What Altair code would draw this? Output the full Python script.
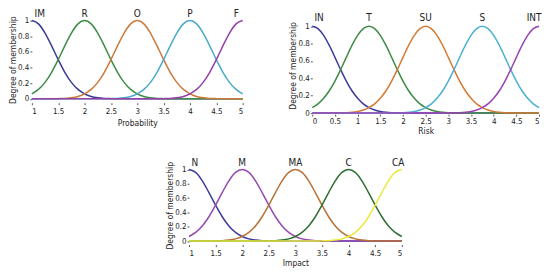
import altair as alt
import pandas as pd

# ---------------- data ----------------
prob_x = [1.0, 1.125, 1.25, 1.375, 1.5, 1.625, 1.75, 1.875, 2.0, 2.125, 2.25, 2.375, 2.5, 2.625, 2.75, 2.875,
          3.0, 3.125, 3.25, 3.375, 3.5, 3.625, 3.75, 3.875, 4.0, 4.125, 4.25, 4.375, 4.5, 4.625, 4.75, 4.875, 5.0]
prob_names = ["IM", "R", "O", "P", "F"]
prob_IM = [1, .958, .841, .677, .5, .339, .21, .12, .063, .03, .013, .005, .002, .001, 0, 0, 0,
           0, 0, 0, 0, 0, 0, 0, 0, 0, 0, 0, 0, 0, 0, 0, 0]
prob_R = [.063, .12, .21, .339, .5, .677, .841, .958, 1, .958, .841, .677, .5, .339, .21, .12, .063,
          .03, .013, .005, .002, .001, 0, 0, 0, 0, 0, 0, 0, 0, 0, 0, 0]
prob_O = [0, 0, 0, .001, .002, .005, .013, .03, .063, .12, .21, .339, .5, .677, .841, .958, 1,
          .958, .841, .677, .5, .339, .21, .12, .063, .03, .013, .005, .002, .001, 0, 0, 0]
prob_P = [0, 0, 0, 0, 0, 0, 0, 0, 0, 0, 0, .001, .002, .005, .013, .03, .063,
          .12, .21, .339, .5, .677, .841, .958, 1, .958, .841, .677, .5, .339, .21, .12, .063]
prob_F = [0, 0, 0, 0, 0, 0, 0, 0, 0, 0, 0, 0, 0, 0, 0, 0, 0,
          0, 0, .001, .002, .005, .013, .03, .063, .12, .21, .339, .5, .677, .841, .958, 1]
prob_label_x = [1.15, 2.0, 3.0, 4.0, 4.88]
prob_colors = ["#3b3a98", "#3c8c46", "#cc7a3a", "#4aaac8", "#9440a8"]

risk_x = [0.0, 0.125, 0.25, 0.375, 0.5, 0.625, 0.75, 0.875, 1.0, 1.125, 1.25, 1.375, 1.5, 1.625, 1.75,
          1.875, 2.0, 2.125, 2.25, 2.375, 2.5, 2.625, 2.75, 2.875, 3.0, 3.125, 3.25, 3.375, 3.5, 3.625,
          3.75, 3.875, 4.0, 4.125, 4.25, 4.375, 4.5, 4.625, 4.75, 4.875, 5.0]
risk_names = ["IN", "T", "SU", "S", "INT"]
risk_IN = [1, .973, .895, .779, .642, .5, .369, .257, .17, .106, .063, .035, .019, .009, .004, .002, .001,
           0, 0, 0, 0, 0, 0, 0, 0, 0, 0, 0, 0, 0, 0, 0, 0, 0, 0, 0, 0, 0, 0, 0, 0]
risk_T = [.063, .106, .17, .257, .369, .5, .642, .779, .895, .973, 1,
          .973, .895, .779, .642, .5, .369, .257, .17, .106, .063, .035, .019, .009, .004, .002, .001,
          0, 0, 0, 0, 0, 0, 0, 0, 0, 0, 0, 0, 0, 0]
risk_SU = [0, 0, 0, 0, .001, .002, .004, .009, .019, .035, .063, .106, .17, .257, .369, .5, .642, .779,
           .895, .973, 1, .973, .895, .779, .642, .5, .369, .257, .17, .106, .063, .035, .019, .009,
           .004, .002, .001, 0, 0, 0, 0]
risk_S = [0, 0, 0, 0, 0, 0, 0, 0, 0, 0, 0, 0, 0, 0, .001, .002, .004, .009, .019, .035, .063, .106,
          .17, .257, .369, .5, .642, .779, .895, .973, 1, .973, .895, .779, .642, .5, .369, .257, .17,
          .106, .063]
risk_INT = [0, 0, 0, 0, 0, 0, 0, 0, 0, 0, 0, 0, 0, 0, 0, 0, 0, 0, 0, 0, 0, 0, 0, 0, .001, .002, .004,
            .009, .019, .035, .063, .106, .17, .257, .369, .5, .642, .779, .895, .973, 1]
risk_label_x = [0.15, 1.25, 2.5, 3.75, 4.89]
risk_colors = ["#3d3a9c", "#3c8a44", "#d47a34", "#4cb0d2", "#9a40b4"]

imp_x = prob_x
imp_names = ["N", "M", "MA", "C", "CA"]
imp_N = [1, .958, .841, .677, .5, .339, .21, .12, .063, .03, .013, .005, .002, .001, 0, 0, 0,
         0, 0, 0, 0, 0, 0, 0, 0, 0, 0, 0, 0, 0, 0, 0, 0]
imp_M = [.063, .12, .21, .339, .5, .677, .841, .958, 1, .958, .841, .677, .5, .339, .21, .12, .063,
         .03, .013, .005, .002, .001, 0, 0, 0, 0, 0, 0, 0, 0, 0, 0, 0]
imp_MA = [0, 0, 0, .001, .002, .005, .013, .03, .063, .12, .21, .339, .5, .677, .841, .958, 1,
          .958, .841, .677, .5, .339, .21, .12, .063, .03, .013, .005, .002, .001, 0, 0, 0]
imp_C = [0, 0, 0, 0, 0, 0, 0, 0, 0, 0, 0, .001, .002, .005, .013, .03, .063,
         .12, .21, .339, .5, .677, .841, .958, 1, .958, .841, .677, .5, .339, .21, .12, .063]
imp_CA = [0, 0, 0, 0, 0, 0, 0, 0, 0, 0, 0, 0, 0, 0, 0, 0, 0,
          0, 0, .001, .002, .005, .013, .03, .063, .12, .21, .339, .5, .677, .841, .958, 1]
imp_label_x = [1.11, 2.0, 3.0, 4.0, 4.93]
imp_colors = ["#3d3a9c", "#9448b0", "#b87034", "#2f6e32", "#eaea3c"]

y_ticks = [0, 0.2, 0.4, 0.6, 0.8, 1]
FONT = "Liberation Sans Narrow, DejaVu Sans Condensed, Arial Narrow, sans-serif"


def panel(key, x, names, series, label_x, colors, xtitle, xticks, xdom, ydom, w, h, label_y,
          xlabpad, xtitlepad):
    rows = []
    for n, s in zip(names, series):
        for xv, yv in zip(x, s):
            rows.append({"x": xv, "y": yv, "mf": key + n})
    df = pd.DataFrame(rows)
    lab = pd.DataFrame({"x": label_x, "y": [label_y] * len(label_x), "t": names})
    xs = alt.Scale(domain=xdom, nice=False, zero=False)
    ys = alt.Scale(domain=ydom, nice=False, zero=False)
    common = dict(grid=False, domain=False, tickSize=2, labelOverlap=False, labelFont=FONT,
                  titleFont=FONT, labelFontSize=8, titleFontSize=8.5, titleFontWeight="normal",
                  labelColor="#222", titleColor="#222", tickColor="#555", format="~g")
    xaxis = alt.Axis(values=xticks, labelPadding=xlabpad, titlePadding=xtitlepad, **common)
    yaxis = alt.Axis(values=y_ticks, labelPadding=1, titlePadding=0, **common)
    lines = alt.Chart(df).mark_line(strokeWidth=1.5, interpolate="monotone", clip=False).encode(
        x=alt.X("x:Q", scale=xs, title=xtitle, axis=xaxis),
        y=alt.Y("y:Q", scale=ys, title="Degree of membership", axis=yaxis),
        color=alt.Color("mf:N", scale=alt.Scale(domain=[key + n for n in names], range=colors),
                        legend=None),
        order=alt.Order("x:Q"),
    )
    text = alt.Chart(lab).mark_text(font=FONT, fontSize=10, color="#222", baseline="middle").encode(
        x=alt.X("x:Q", scale=xs, title=xtitle, axis=xaxis),
        y=alt.Y("y:Q", scale=ys, title="Degree of membership", axis=yaxis),
        text="t:N")
    return alt.layer(lines, text).properties(width=w, height=h)


A = panel("p", prob_x, prob_names, [prob_IM, prob_R, prob_O, prob_P, prob_F], prob_label_x, prob_colors,
          "Probability", [1, 1.5, 2, 2.5, 3, 3.5, 4, 4.5, 5], [1, 5], [-0.05, 1.05], 212, 86.5, 1.08, 3, 3)
B = panel("r", risk_x, risk_names, [risk_IN, risk_T, risk_SU, risk_S, risk_INT], risk_label_x, risk_colors,
          "Risk", [0, 0.5, 1, 1.5, 2, 2.5, 3, 3.5, 4, 4.5, 5], [0, 5], [-0.012, 1.11], 228, 98, 1.1, 1, 1)
C = panel("i", imp_x, imp_names, [imp_N, imp_M, imp_MA, imp_C, imp_CA], imp_label_x, imp_colors,
          "Impact", [1, 1.5, 2, 2.5, 3, 3.5, 4, 4.5, 5], [1, 5], [-0.05, 1.05], 214, 79.2, 1.085, 3, 1)

SPACER_W = 158
spacer = alt.Chart(pd.DataFrame({"v": [0]})).mark_rect(opacity=0).encode(
    x=alt.value(0), x2=alt.value(SPACER_W), y=alt.value(0), y2=alt.value(79)).properties(
    width=SPACER_W, height=79.2)

top = alt.hconcat(A, B, spacing=70, bounds="flush").resolve_scale(x="independent", y="independent",
                                                                  color="independent")
bottom = alt.hconcat(spacer, C, spacing=0, bounds="flush").resolve_scale(x="independent", y="independent",
                                                                         color="independent")
chart = alt.vconcat(top, bottom, spacing=23).resolve_scale(
    x="independent", y="independent", color="independent").configure_view(stroke=None).properties(
    padding={"left": 0, "top": 0, "right": 0, "bottom": 0}, background="white")

chart.save("out.html", embed_options={"renderer": "svg", "actions": False})
